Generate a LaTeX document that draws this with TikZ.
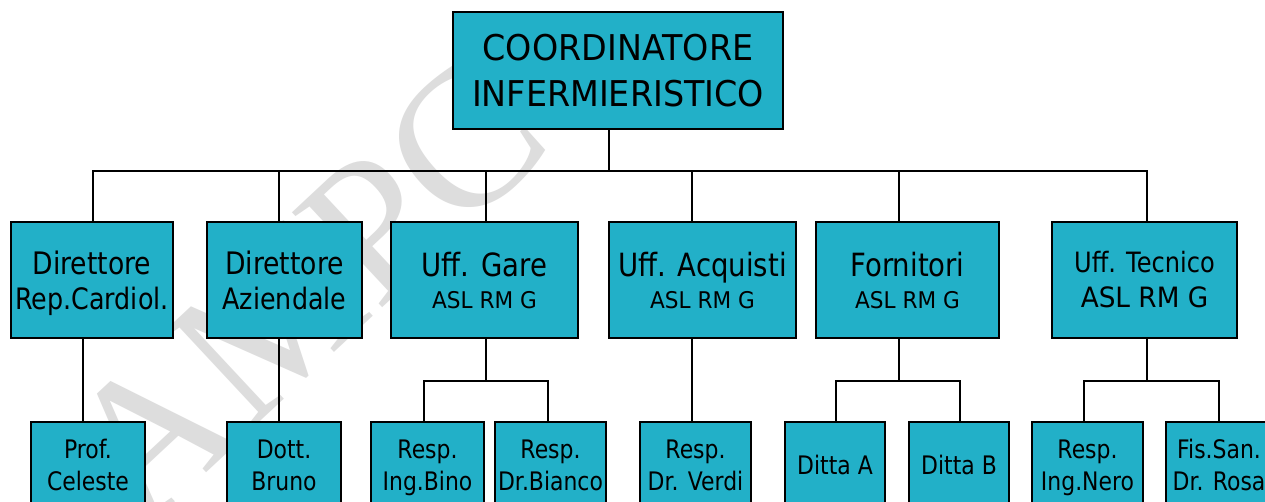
\documentclass[tikz,border=0pt]{standalone}
\usepackage{fontspec}
\setmainfont[FakeStretch=0.86]{DejaVu Sans}
\newfontfamily\capf[FakeStretch=0.94]{DejaVu Sans}
\newfontfamily\wmfont{Liberation Serif}
\definecolor{boxcyan}{RGB}{34,176,200}
\definecolor{wmgray}{RGB}{221,221,221}
\newcommand\topstr{\rule{0pt}{0.97em}}
\newcommand\botstr{\rule[-0.24em]{0pt}{0.24em}}
\newcommand\onestr{\rule[-0.24em]{0pt}{1.21em}}
\begin{document}
\begin{tikzpicture}[x=1pt,y=-1pt,
  box/.style={draw=black, line width=1.3pt, fill=boxcyan, inner sep=0pt, align=center},
  lvlone/.style={box, minimum height=116pt},
  lvltwo/.style={box, minimum height=87pt, font=\fontsize{25.5}{32}\selectfont},
  conn/.style={line width=1.6pt},
  busline/.style={line width=2.3pt, line cap=rect},
]
\useasboundingbox (0,0) rectangle (1265,501);
\clip (0,0) rectangle (1265,501);
\fill[white] (0,0) rectangle (1265,501);

% watermark
\node[text=wmgray, font=\wmfont\fontsize{200}{200}\selectfont, rotate=43, inner sep=0pt] (wm) at (305,291) {AMPC};

% top
\node[box, minimum width=330pt, minimum height=117pt, font=\capf\fontsize{35.5}{46}\selectfont] (top) at (618,70.5)
  {\topstr COORDINATORE\\INFERMIERISTICO\botstr};

% level one
\node[lvlone, minimum width=162pt, font=\fontsize{31}{35}\selectfont] (b1) at (92,280)
  {\topstr Direttore\\\fontsize{29.5}{35}\selectfont Rep.Cardiol.\botstr};
\node[lvlone, minimum width=155pt, font=\fontsize{31}{35}\selectfont] (b2) at (284.5,280)
  {\topstr Direttore\\\fontsize{29.5}{35}\selectfont Aziendale\botstr};
\node[lvlone, minimum width=187pt, font=\fontsize{32}{32}\selectfont] (b3) at (484.5,280)
  {\topstr Uff. Gare\\\capf\fontsize{23}{32}\selectfont ASL RM G\botstr};
\node[lvlone, minimum width=187pt, font=\fontsize{32}{32}\selectfont] (b4) at (702.5,280)
  {\topstr Uff. Acquisti\\\capf\fontsize{23}{32}\selectfont ASL RM G\botstr};
\node[lvlone, minimum width=183pt, font=\fontsize{32}{32}\selectfont] (b5) at (907.5,280)
  {\topstr Fornitori\\\capf\fontsize{23}{32}\selectfont ASL RM G\botstr};
\node[lvlone, minimum width=185pt, font=\fontsize{28}{35}\selectfont] (b6) at (1144.5,280)
  {\topstr Uff. Tecnico\\\capf\fontsize{28}{35}\selectfont ASL RM G\botstr};

% level two
\node[lvltwo, minimum width=114pt] (c1) at (88,465.5) {\topstr Prof.\\Celeste\botstr};
\node[lvltwo, minimum width=114pt] (c2) at (284,465.5) {\topstr Dott.\\Bruno\botstr};
\node[lvltwo, minimum width=113pt] (c3) at (427.5,465.5) {\topstr Resp.\\Ing.Bino\botstr};
\node[lvltwo, minimum width=111pt] (c4) at (550.5,465.5) {\topstr Resp.\\Dr.Bianco\botstr};
\node[lvltwo, minimum width=111pt] (c5) at (695.5,465.5) {\topstr Resp.\\Dr. Verdi\botstr};
\node[lvltwo, minimum width=100pt] (c6) at (835,465.5) {\onestr Ditta A};
\node[lvltwo, minimum width=100pt] (c7) at (959,465.5) {\onestr Ditta B};
\node[lvltwo, minimum width=111pt] (c8) at (1087.5,465.5) {\topstr Resp.\\Ing.Nero\botstr};
\node[lvltwo, minimum width=106pt] (c9) at (1219,465.5) {\topstr Fis.San.\\Dr. Rosa\botstr};

% junction coordinates
\coordinate (j0) at (609,171);
\coordinate (s1) at (93,171);
\coordinate (s2) at (279,171);
\coordinate (s3) at (486,171);
\coordinate (s4) at (692,171);
\coordinate (s5) at (899,171);
\coordinate (s6) at (1147,171);
\coordinate (t1) at (83,381);
\coordinate (t2) at (279,381);
\coordinate (t3) at (486,381);
\coordinate (t4) at (692,381);
\coordinate (t5) at (899,381);
\coordinate (t6) at (1147,381);
\coordinate (u3l) at (424,381);
\coordinate (u3r) at (548,381);
\coordinate (u5l) at (836,381);
\coordinate (u5r) at (960,381);
\coordinate (u6l) at (1084,381);
\coordinate (u6r) at (1219,381);

% top to level one
\draw[conn] (top.south -| j0) -- (j0);
\draw[busline] (s1) -- (s6);
\draw[conn] (s1) -- (s1 |- b1.north);
\draw[conn] (s2) -- (s2 |- b2.north);
\draw[conn] (s3) -- (s3 |- b3.north);
\draw[conn] (s4) -- (s4 |- b4.north);
\draw[conn] (s5) -- (s5 |- b5.north);
\draw[line width=2.2pt] (s6) -- (s6 |- b6.north);

% level one to level two
\draw[conn] (t1 |- b1.south) -- (t1 |- c1.north);
\draw[conn] (t2 |- b2.south) -- (t2 |- c2.north);
\draw[conn] (t3 |- b3.south) -- (t3);
\draw[busline] (u3l) -- (u3r);
\draw[conn] (u3l) -- (u3l |- c3.north);
\draw[conn] (u3r) -- (u3r |- c4.north);
\draw[conn] (t4 |- b4.south) -- (t4 |- c5.north);
\draw[conn] (t5 |- b5.south) -- (t5);
\draw[busline] (u5l) -- (u5r);
\draw[conn] (u5l) -- (u5l |- c6.north);
\draw[conn] (u5r) -- (u5r |- c7.north);
\draw[line width=2.2pt] (t6 |- b6.south) -- (t6);
\draw[busline] (u6l) -- (u6r);
\draw[conn] (u6l) -- (u6l |- c8.north);
\draw[conn] (u6r) -- (u6r |- c9.north);
\end{tikzpicture}
\end{document}
